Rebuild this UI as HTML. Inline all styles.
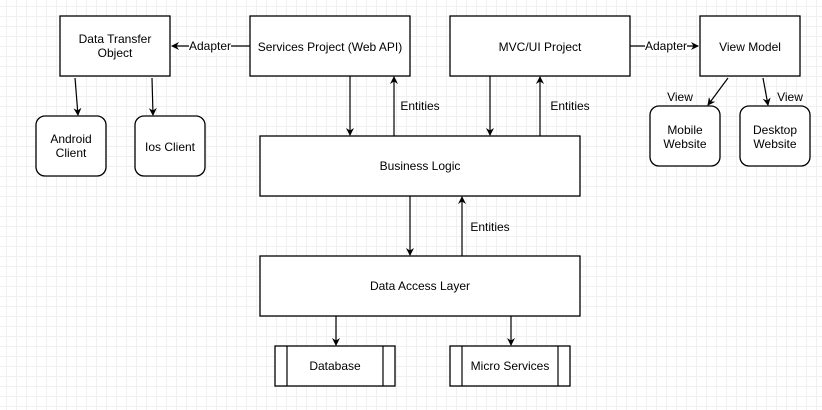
<!DOCTYPE html>
<html><head><style>
html,body{margin:0;padding:0;background:#fff;}
body{width:822px;height:410px;overflow:hidden;
background-image:linear-gradient(#f0f0f0 1px,transparent 1px),linear-gradient(90deg,#f0f0f0 1px,transparent 1px);
background-size:10px 10px;background-position:-4px -4px;}
text{font-family:"Liberation Sans",sans-serif;font-size:12px;fill:#000;}
</style></head><body>
<svg width="822" height="410" xmlns="http://www.w3.org/2000/svg" style="position:absolute;left:0;top:0">
<defs><marker id="a" markerWidth="8" markerHeight="8" refX="7" refY="4" orient="auto" markerUnits="userSpaceOnUse"><path d="M0,0 L8,4 L0,8 L2.5,4 z" fill="#000"/></marker></defs>
<g fill="#fff" stroke="#000" stroke-width="1.3">
<rect x="60" y="16" width="110" height="60"/>
<rect x="250" y="16" width="160" height="60"/>
<rect x="450" y="16" width="180" height="60"/>
<rect x="700" y="16" width="100" height="60"/>
<rect x="36" y="116" width="70" height="60" rx="9"/>
<rect x="135" y="116" width="70" height="60" rx="9"/>
<rect x="650" y="106" width="70" height="60" rx="9"/>
<rect x="740" y="106" width="70" height="60" rx="9"/>
<rect x="260" y="136" width="320" height="60"/>
<rect x="260" y="256" width="320" height="60"/>
<rect x="275" y="346" width="120" height="40"/>
<rect x="450" y="346" width="120" height="40"/>
</g>
<g stroke="#000" stroke-width="1.2" fill="none">
<line x1="287" y1="346" x2="287" y2="386"/><line x1="383" y1="346" x2="383" y2="386"/>
<line x1="462" y1="346" x2="462" y2="386"/><line x1="558" y1="346" x2="558" y2="386"/>
<line x1="250" y1="46" x2="172" y2="46" marker-end="url(#a)"/>
<line x1="630" y1="46" x2="698" y2="46" marker-end="url(#a)"/>
<line x1="75" y1="78" x2="78" y2="115" marker-end="url(#a)"/>
<line x1="152" y1="78" x2="153" y2="115" marker-end="url(#a)"/>
<line x1="728" y1="78" x2="708" y2="105" marker-end="url(#a)"/>
<line x1="763" y1="78" x2="768" y2="105" marker-end="url(#a)"/>
<line x1="350" y1="76" x2="350" y2="135" marker-end="url(#a)"/>
<line x1="394" y1="136" x2="394" y2="77" marker-end="url(#a)"/>
<line x1="490" y1="76" x2="490" y2="135" marker-end="url(#a)"/>
<line x1="540" y1="136" x2="540" y2="77" marker-end="url(#a)"/>
<line x1="410" y1="196" x2="410" y2="255" marker-end="url(#a)"/>
<line x1="462" y1="256" x2="462" y2="197" marker-end="url(#a)"/>
<line x1="336" y1="316" x2="336" y2="345" marker-end="url(#a)"/>
<line x1="511" y1="316" x2="511" y2="345" marker-end="url(#a)"/>
</g>
<rect x="189" y="39" width="42" height="14" fill="#fff"/>
<rect x="645" y="39" width="42" height="14" fill="#fff"/>
<g text-anchor="middle">
<text x="115" y="43">Data Transfer</text><text x="115" y="57">Object</text>
<text x="330" y="51">Services Project (Web API)</text>
<text x="540" y="51">MVC/UI Project</text>
<text x="750" y="51">View Model</text>
<text x="71" y="143">Android</text><text x="71" y="157">Client</text>
<text x="170" y="151">Ios Client</text>
<text x="685" y="134">Mobile</text><text x="685" y="148">Website</text>
<text x="775" y="134">Desktop</text><text x="775" y="148">Website</text>
<text x="420" y="170">Business Logic</text>
<text x="420" y="290">Data Access Layer</text>
<text x="335" y="370">Database</text>
<text x="510" y="370">Micro Services</text>
<text x="210" y="50" font-size="11">Adapter</text>
<text x="666" y="50" font-size="11">Adapter</text>
<text x="680" y="101">View</text>
<text x="790" y="101">View</text>
<text x="420" y="110">Entities</text>
<text x="570" y="110">Entities</text>
<text x="490" y="231">Entities</text>
</g>
</svg>
</body></html>
